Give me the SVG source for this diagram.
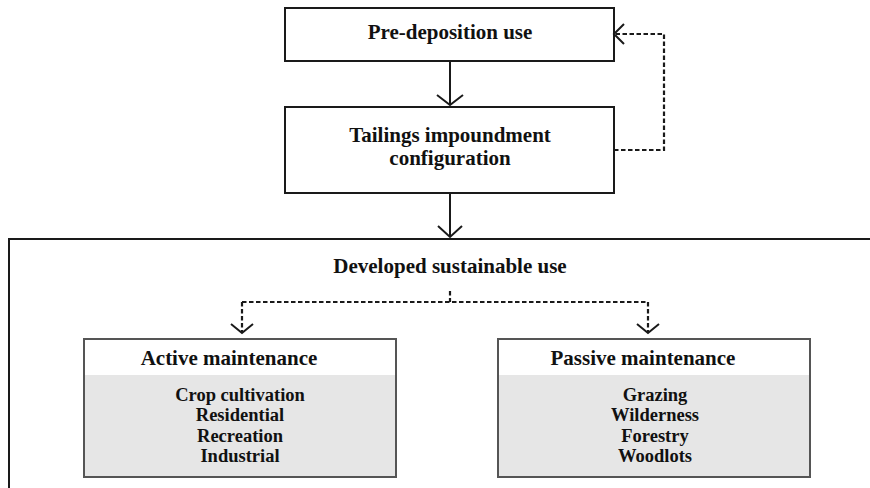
<svg xmlns="http://www.w3.org/2000/svg" width="870" height="488" viewBox="0 0 870 488">
<style>
.box{fill:#fff;stroke:#1a1a1a;stroke-width:2}
.sub{fill:#fff;stroke:#555;stroke-width:2}
.gray{fill:#e6e6e6;stroke:none}
.ln{fill:none;stroke:#1a1a1a;stroke-width:2}
.dash{fill:none;stroke:#1a1a1a;stroke-width:2.2;stroke-dasharray:4.5,2.5}
.hd{font-family:"Liberation Serif","Times New Roman",serif;font-weight:bold;font-size:21px;fill:#111;text-anchor:middle}
.it{font-family:"Liberation Serif","Times New Roman",serif;font-weight:bold;font-size:18.5px;fill:#111;text-anchor:middle}
</style>
<rect width="870" height="488" fill="#fff"/>
<g id="pre-deposition">
<rect class="box" x="285" y="8" width="329" height="53"/>
<text class="hd" x="450" y="39">Pre-deposition use</text>
</g>
<g id="tailings">
<rect class="box" x="285" y="107" width="329" height="86"/>
<text class="hd" x="450" y="142">Tailings impoundment</text>
<text class="hd" x="450" y="165">configuration</text>
</g>
<g id="developed">
<path class="ln" d="M9,488 V239 H870"/>
<text class="hd" x="450" y="273">Developed sustainable use</text>
</g>
<g id="active">
<rect class="sub" x="84" y="339" width="312" height="138"/>
<rect class="gray" x="85" y="375" width="310" height="101"/>
<text class="hd" x="229" y="365">Active maintenance</text>
<text class="it" x="240" y="400.5">Crop cultivation</text>
<text class="it" x="240" y="421">Residential</text>
<text class="it" x="240" y="441.5">Recreation</text>
<text class="it" x="240" y="462">Industrial</text>
</g>
<g id="passive">
<rect class="sub" x="498" y="339" width="312" height="138"/>
<rect class="gray" x="499" y="375" width="310" height="101"/>
<text class="hd" x="643" y="365">Passive maintenance</text>
<text class="it" x="655" y="400.5">Grazing</text>
<text class="it" x="655" y="421">Wilderness</text>
<text class="it" x="655" y="441.5">Forestry</text>
<text class="it" x="655" y="462">Woodlots</text>
</g>
<g id="connectors">
<path class="ln" d="M450,61 V105 M437,95 L450,105 L463,95"/>
<path class="ln" d="M450,193 V237 M438,226 L450,237 L462,226"/>
<path class="dash" d="M614,150 H664 V34 H616"/>
<path class="ln" d="M624,24 L614,34 L624,44"/>
<path class="dash" d="M450,291 V302 M242,302 H648 M242,302 V332 M648,302 V332"/>
<path class="ln" d="M231,324 L242,333 L253,324 M637,324 L648,333 L659,324"/>
</g>
</svg>
